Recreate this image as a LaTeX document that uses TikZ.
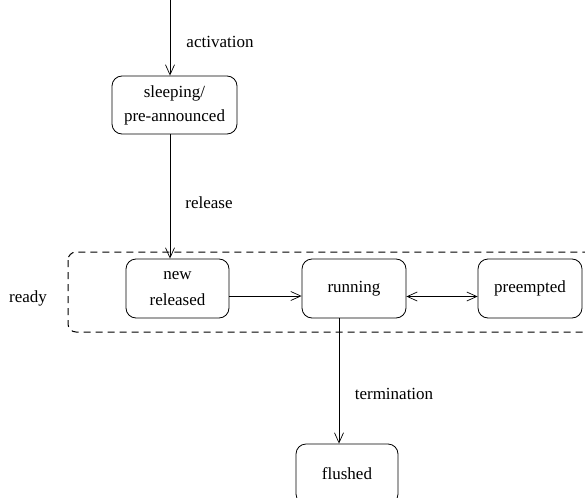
\documentclass[tikz,border=0pt]{standalone}
\usepackage{fontspec}
\setmainfont{Liberation Serif}
\usetikzlibrary{arrows.meta}
\begin{document}
\begin{tikzpicture}[x=1pt,y=1pt,
  state/.style={draw,rounded corners=10pt,line width=0.8pt,inner sep=0pt,align=center,font=\fontsize{17}{24}\selectfont},
  lbl/.style={font=\fontsize{17}{20}\selectfont,inner sep=0pt},
  conn/.style={line width=0.8pt,-{Straight Barb[length=10pt,width=9pt,line width=0.7pt]}},
  bconn/.style={line width=0.8pt,{Straight Barb[length=10pt,width=9pt,line width=0.7pt]}-{Straight Barb[length=10pt,width=9pt,line width=0.7pt]}}]
\clip (0,0) rectangle (585,-497);
\useasboundingbox (0,0) rectangle (585,-497);
% dashed group
\draw[dash pattern=on 7pt off 5pt,line width=1pt,black,rounded corners=8pt] (68,-252) rectangle (600,-332);
\node[lbl] (ready) at (28,-298) {ready};
% states
\node[state,minimum width=125pt,minimum height=58pt] (sleep) at (174.5,-105) {sleeping/\\pre-announced};
\node[state,minimum width=103pt,minimum height=59pt,font=\fontsize{17}{26}\selectfont] (newrel) at (177.5,-288.5) {new\\released};
\node[state,minimum width=104pt,minimum height=59pt] (running) at (354,-288.5) {running};
\node[state,minimum width=104pt,minimum height=59pt] (preempted) at (530,-288.5) {preempted};
\node[state,minimum width=102pt,minimum height=60pt] (flushed) at (347,-474) {flushed};
% connectors
\coordinate (top) at (170,0);
\draw[conn] (top) -- (top |- sleep.north);
\draw[conn] (sleep.south -| top) -- (newrel.north -| top);
\draw[conn] ([yshift=-7.5pt]newrel.east) -- ([yshift=-7.5pt]running.west);
\draw[bconn] ([yshift=-8pt]running.east) -- ([yshift=-8pt]preempted.west);
\draw[conn] ([xshift=-15pt]running.south) -- ([xshift=-15pt]running.south |- flushed.north);
% labels
\node[lbl] (act) at (220,-42) {activation};
\node[lbl] (rel) at (209,-203) {release};
\node[lbl] (term) at (394,-394) {termination};
\end{tikzpicture}
\end{document}
